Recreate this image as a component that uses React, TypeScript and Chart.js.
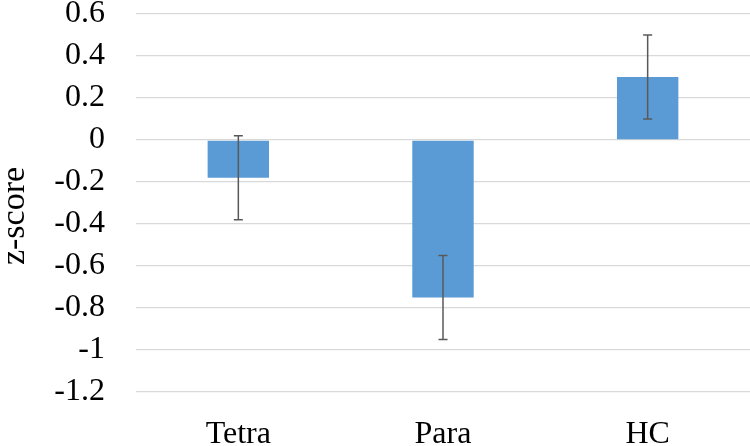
import React, { useEffect, useRef } from "react";
import { Chart, registerables } from "chart.js";

Chart.register(...registerables);

const categories = ["Tetra", "Para", "HC"];
const means = [-0.18, -0.75, 0.3];
const errors = [0.2, 0.2, 0.2];
const yTicks = [0.6, 0.4, 0.2, 0, -0.2, -0.4, -0.6, -0.8, -1, -1.2];
const yTitle = "z-score";

const family = "'Liberation Serif', 'Times New Roman', serif";

const errorBarPlugin = {
  id: "errorBars",
  afterDatasetsDraw(chart: any) {
    const ctx = chart.ctx;
    const meta = chart.getDatasetMeta(0);
    const yScale = chart.scales.y;
    ctx.save();
    ctx.strokeStyle = "#595959";
    ctx.lineWidth = 1.5;
    meta.data.forEach((bar: any, i: number) => {
      const x = bar.x;
      const yTop = yScale.getPixelForValue(means[i] + errors[i]);
      const yBot = yScale.getPixelForValue(means[i] - errors[i]);
      const cap = 4.5;
      ctx.beginPath();
      ctx.moveTo(x, yTop);
      ctx.lineTo(x, yBot);
      ctx.moveTo(x - cap, yTop);
      ctx.lineTo(x + cap, yTop);
      ctx.moveTo(x - cap, yBot);
      ctx.lineTo(x + cap, yBot);
      ctx.stroke();
    });
    ctx.restore();
  },
};

const yTitlePlugin = {
  id: "yTitle",
  afterDraw(chart: any) {
    const ctx = chart.ctx;
    const area = chart.chartArea;
    ctx.save();
    ctx.translate(15, (area.top + area.bottom) / 2 + 13);
    ctx.rotate(-Math.PI / 2);
    ctx.font = `34px ${family}`;
    ctx.fillStyle = "#000";
    ctx.textAlign = "center";
    ctx.textBaseline = "middle";
    ctx.fillText(yTitle, 0, 0);
    ctx.restore();
  },
};

export default function App() {
  const ref = useRef<HTMLCanvasElement>(null);
  useEffect(() => {
    document.body.style.margin = "0";
    const chart = new Chart(ref.current!, {
      type: "bar",
      data: {
        labels: categories,
        datasets: [
          {
            data: means,
            backgroundColor: "#5b9bd5",
            categoryPercentage: 1,
            barPercentage: 0.3,
          },
        ],
      },
      options: {
        animation: false,
        responsive: false,
        layout: { padding: { top: 14, right: 0, left: 0, bottom: 0 } },
        plugins: { legend: { display: false }, tooltip: { enabled: false } },
        scales: {
          x: {
            grid: { display: false },
            border: { display: false },
            ticks: { color: "#000", font: { family, size: 32 }, padding: 15 },
            afterFit: (s: any) => {
              s.height = 54;
              s.paddingLeft = 0;
              s.paddingRight = 0;
            },
          },
          y: {
            min: -1.2,
            max: 0.6,
            afterBuildTicks: (s: any) => {
              s.ticks = yTicks.map((v) => ({ value: v }));
            },
            grid: { color: "#d9d9d9", lineWidth: 1.3, drawTicks: false },
            border: { display: false },
            ticks: {
              color: "#000",
              font: { family, size: 32 },
              padding: 31,
              callback: (v: any) => String(Math.round(Number(v) * 10) / 10),
            },
            title: { display: false },
            afterFit: (s: any) => {
              s.width = 136;
              s.paddingTop = 0;
              s.paddingBottom = 0;
            },
          },
        },
      },
      plugins: [errorBarPlugin, yTitlePlugin],
    });
    return () => chart.destroy();
  }, []);
  return <canvas ref={ref} width={750} height={446} style={{ display: "block" }} />;
}
